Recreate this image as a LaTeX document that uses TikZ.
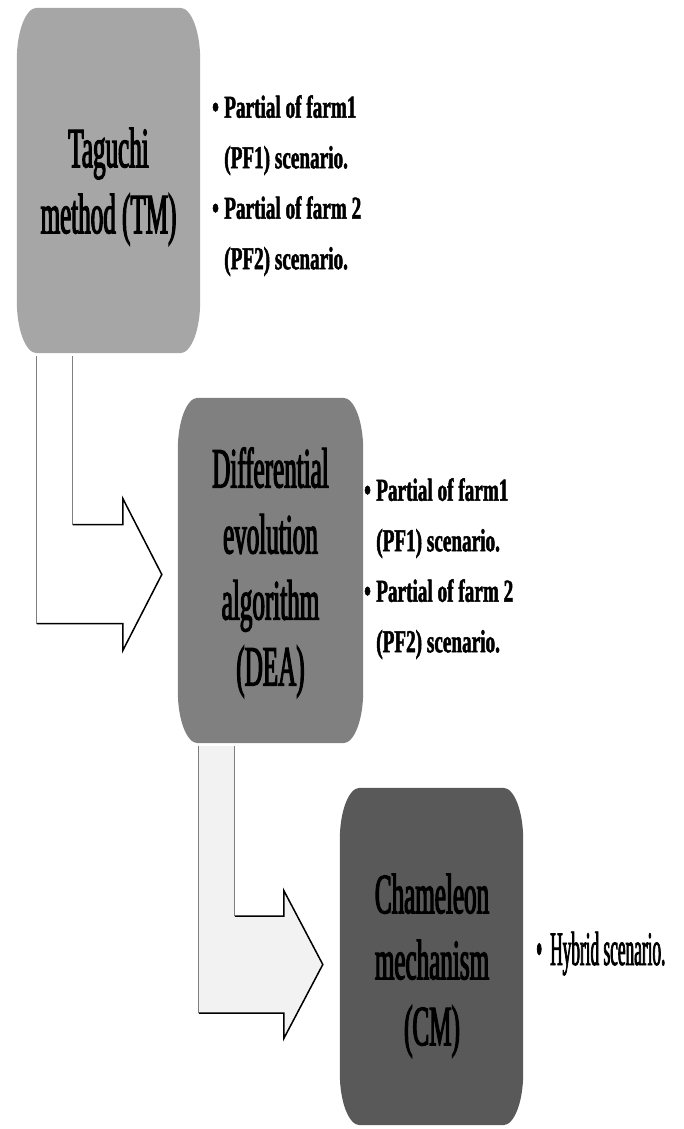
\documentclass[tikz,border=0pt]{standalone}
\usepackage{fontspec}
\setmainfont{Liberation Serif}
% condensed serif faces
\newfontfamily\panelfont[FakeStretch=0.44,FakeBold=2]{Liberation Serif}
\newfontfamily\notefont[FakeStretch=0.60,FakeBold=1.5]{Liberation Serif}
\newfontfamily\plainnotefont[FakeStretch=0.36,FakeBold=1.5]{Liberation Serif}
\usetikzlibrary{calc}

\definecolor{tmgray}{HTML}{A6A6A6}
\definecolor{deagray}{HTML}{808080}
\definecolor{cmgray}{HTML}{595959}
\definecolor{arrowfill}{HTML}{F2F2F2}
\definecolor{edgegray}{HTML}{7F7F7F}

% panel with elliptical corners, spanning the named node
\newcommand\softpanel[2]{%
  \fill[#2] ([xshift=20pt]#1.north west) -- ([xshift=-20pt]#1.north east)
    arc[start angle=90,end angle=0,x radius=20pt,y radius=52pt]
    -- ([yshift=52pt]#1.south east)
    arc[start angle=0,end angle=-90,x radius=20pt,y radius=52pt]
    -- ([xshift=20pt]#1.south west)
    arc[start angle=-90,end angle=-180,x radius=20pt,y radius=52pt]
    -- ([yshift=-52pt]#1.north west)
    arc[start angle=180,end angle=90,x radius=20pt,y radius=52pt] -- cycle;}

\begin{document}
\begin{tikzpicture}[x=1pt,y=-1pt,
  panel/.style={inner sep=0pt, minimum width=#1},
  paneltext/.style={font=\panelfont\fontsize{57}{66}\selectfont, align=center, inner sep=0pt},
  notes/.style={font=\notefont\bfseries\fontsize{32}{50.5}\selectfont, align=left, anchor=north west, inner sep=0pt},
  plainnote/.style={font=\plainnotefont\fontsize{48}{52}\selectfont, anchor=base west, inner sep=0pt},
  arrowedge/.style={draw=edgegray, line width=0.8pt, line join=miter},
  arrowhead/.style={draw=black, line width=1.5pt, line join=miter}
]
\useasboundingbox (0,0) rectangle (683,1129);

% panel outlines (filled below)
\node[panel=183pt, minimum height=345pt] (tm)  at (108.5,180.5) {};
\node[panel=185pt, minimum height=345pt] (dea) at (270.5,570.5) {};
\node[panel=183pt, minimum height=337pt] (cm)  at (431.5,956.5) {};

\softpanel{tm}{tmgray}
\softpanel{dea}{deagray}
\softpanel{cm}{cmgray}

% block arrow TM -> DEA
\coordinate (s1)  at ($(tm.south west)+(20,3)$);
\coordinate (s1i) at ($(tm.south west)+(56,3)$);
\coordinate (t1)  at ($(dea.west)+(-16,4)$);
\coordinate (h1)  at ($(t1)+(-39,0)$);
\coordinate (c1)  at (s1 |- h1);
\coordinate (c1i) at (s1i |- h1);
\fill[white] (s1) -- ($(c1)+(0,49)$) -- ($(h1)+(0,49)$) -- ($(h1)+(0,76)$) -- (t1)
  -- ($(h1)+(0,-76)$) -- ($(h1)+(0,-50)$) -- ($(c1i)+(0,-50)$) -- (s1i) -- cycle;
\draw[arrowedge] (s1) -- ($(c1)+(0,49)$);
\draw[arrowedge] (s1i) -- ($(c1i)+(0,-50)$);
\draw[arrowhead] ($(c1)+(0,49)$) -- ($(h1)+(0,49)$) -- ($(h1)+(0,76)$) -- (t1)
  -- ($(h1)+(0,-76)$) -- ($(h1)+(0,-50)$) -- ($(c1i)+(0,-50)$);

% block arrow DEA -> CM
\coordinate (s2)  at ($(dea.south west)+(21,3)$);
\coordinate (s2i) at ($(dea.south west)+(57,3)$);
\coordinate (t2)  at ($(cm.west)+(-17,8)$);
\coordinate (h2)  at ($(t2)+(-39,0)$);
\coordinate (c2)  at (s2 |- h2);
\coordinate (c2i) at (s2i |- h2);
\fill[arrowfill] (s2) -- ($(c2)+(0,48.5)$) -- ($(h2)+(0,48.5)$) -- ($(h2)+(0,74)$) -- (t2)
  -- ($(h2)+(0,-74)$) -- ($(h2)+(0,-48.5)$) -- ($(c2i)+(0,-48.5)$) -- (s2i) -- cycle;
\draw[arrowedge] (s2) -- ($(c2)+(0,48.5)$);
\draw[arrowedge] (s2i) -- ($(c2i)+(0,-48.5)$);
\draw[arrowhead] ($(c2)+(0,48.5)$) -- ($(h2)+(0,48.5)$) -- ($(h2)+(0,74)$) -- (t2)
  -- ($(h2)+(0,-74)$) -- ($(h2)+(0,-48.5)$) -- ($(c2i)+(0,-48.5)$);

% panel titles
\node[paneltext] (tmtext)  at (108.5,186.5) {Taguchi\\method (TM)};
\node[paneltext] (deatext) at (270.5,572.5) {Differential\\evolution\\algorithm\\(DEA)};
\node[paneltext] (cmtext)  at (432,965.5) {Chameleon\\mechanism\\(CM)};

% scenario lists
\node[notes] (tmnotes) at (212,95) {•\,Partial of farm1\\\hphantom{•\,}(PF1) scenario.\\•\,Partial of farm 2\\\hphantom{•\,}(PF2) scenario.};
\node[notes] (deanotes) at (364,478) {•\,Partial of farm1\\\hphantom{•\,}(PF1) scenario.\\•\,Partial of farm 2\\\hphantom{•\,}(PF2) scenario.};
\node[plainnote] (cmnotes) at (536,965) {•\,Hybrid scenario.};
\end{tikzpicture}
\end{document}
